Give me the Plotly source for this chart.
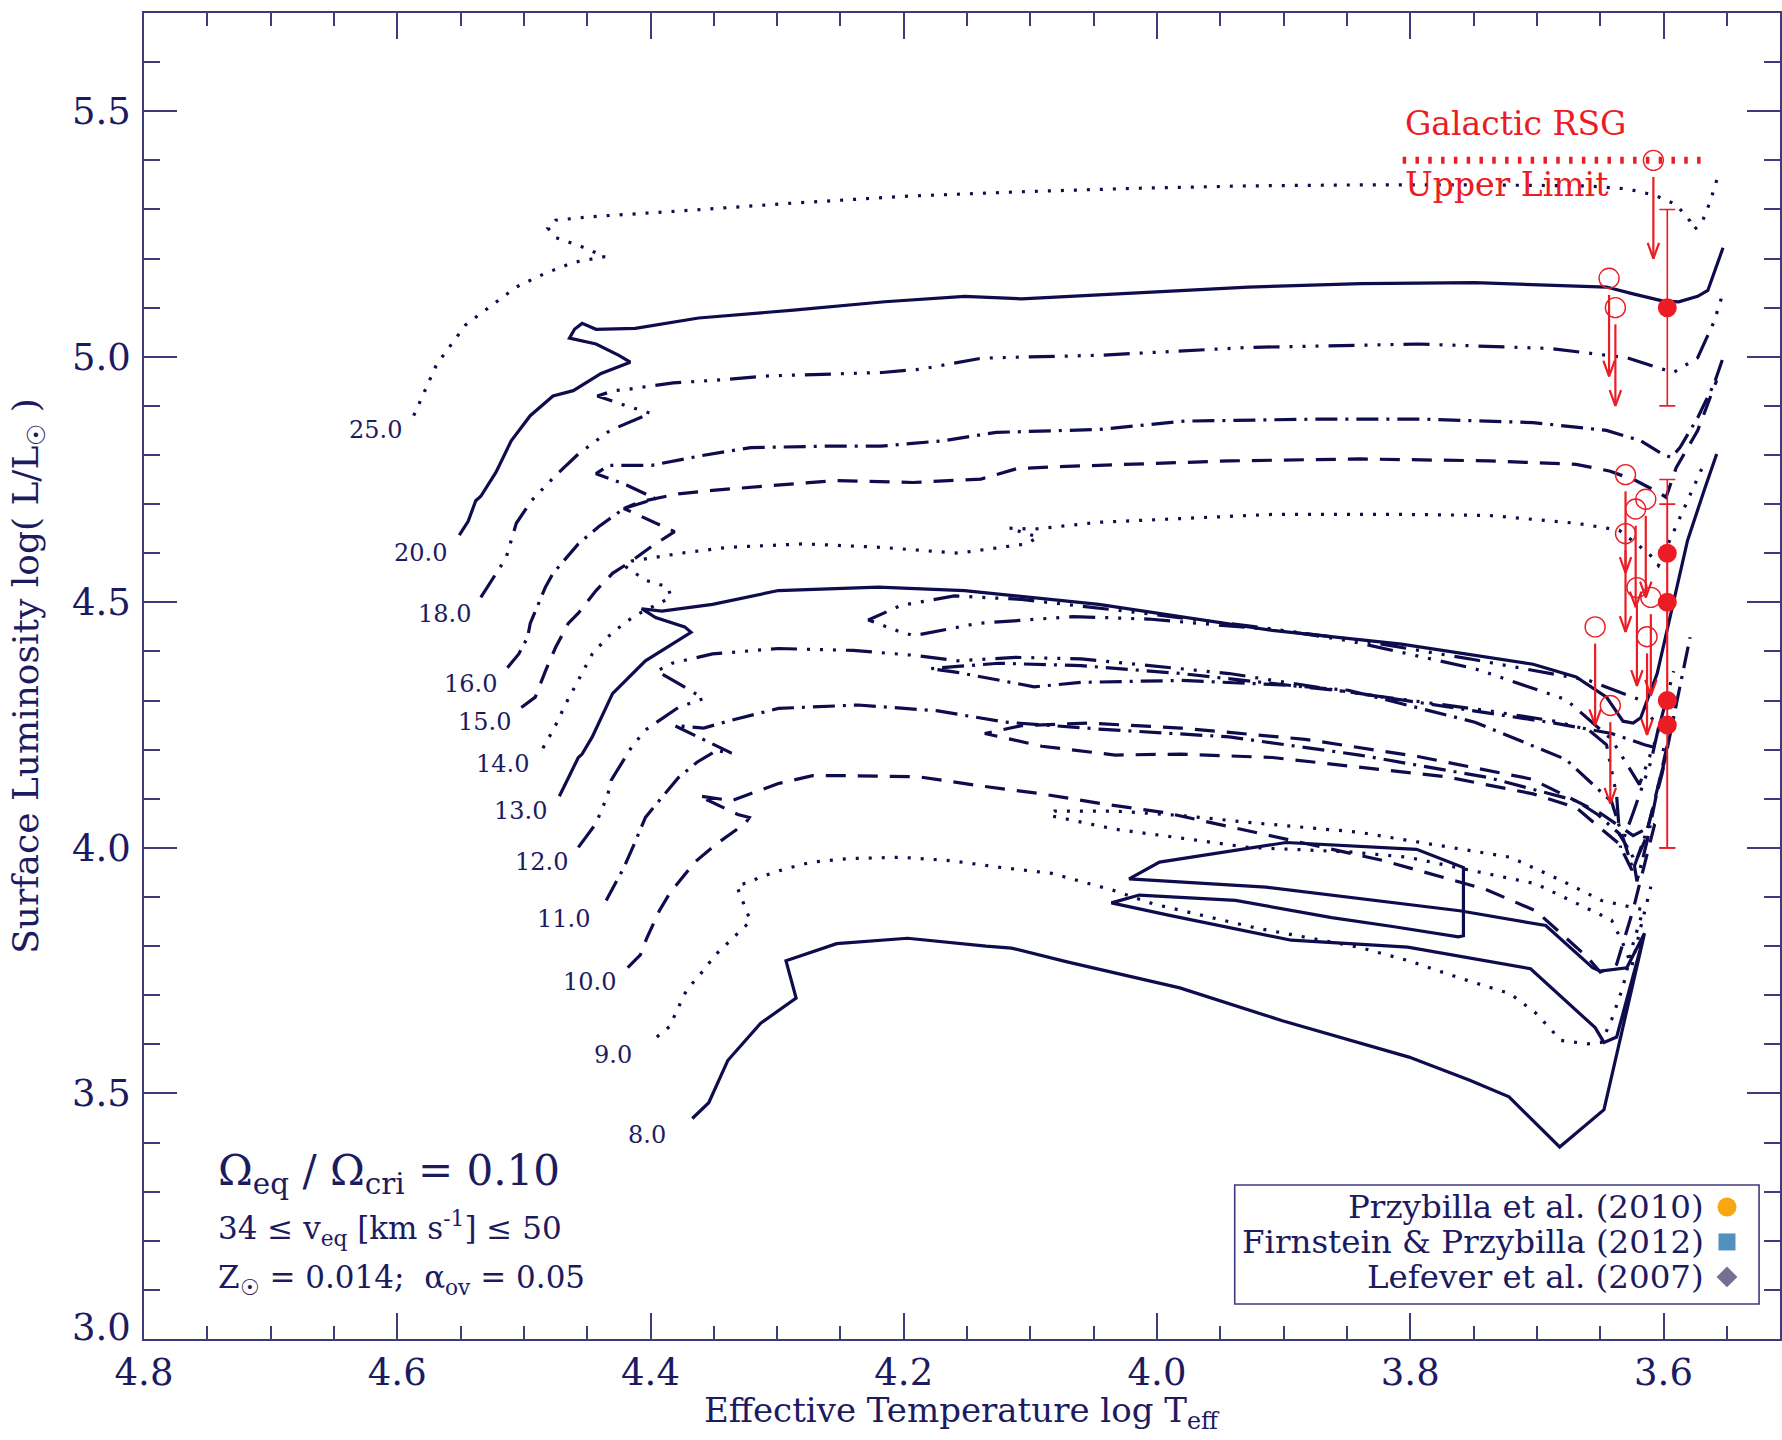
import plotly.graph_objects as go

NAVY = "#0e0c4c"
TEXT = "#1d1b5f"
AXIS = "#3d3b7b"
RED = "#ec1c24"
FONT = "DejaVu Serif"

# ---------------- evolutionary tracks (log Teff, log L) ----------------
logT_25 = [4.587, 4.569, 4.546, 4.528, 4.506, 4.484, 4.461, 4.436, 4.457, 4.475, 4.481, 4.475, 4.448, 4.376,
           4.287, 4.197, 4.107, 4.018, 3.928, 3.839, 3.749, 3.660, 3.629, 3.607, 3.590, 3.579, 3.576, 3.570,
           3.563, 3.557]
logL_25 = [4.880, 4.984, 5.065, 5.100, 5.142, 5.169, 5.192, 5.204, 5.227, 5.243, 5.262, 5.278, 5.285, 5.297,
           5.313, 5.327, 5.336, 5.343, 5.348, 5.350, 5.350, 5.348, 5.342, 5.329, 5.310, 5.276, 5.259, 5.271,
           5.317, 5.368]

logT_20 = [4.551, 4.544, 4.538, 4.534, 4.522, 4.510, 4.495, 4.477, 4.461, 4.439, 4.416, 4.425, 4.443, 4.464,
           4.460, 4.454, 4.443, 4.412, 4.362, 4.287, 4.215, 4.152, 4.107, 4.018, 3.928, 3.839, 3.749, 3.669,
           3.645, 3.624, 3.601, 3.588, 3.573, 3.565, 3.553]
logL_20 = [4.637, 4.665, 4.707, 4.716, 4.765, 4.829, 4.880, 4.920, 4.931, 4.966, 4.989, 5.003, 5.026, 5.038,
           5.056, 5.068, 5.056, 5.058, 5.079, 5.095, 5.112, 5.123, 5.118, 5.130, 5.142, 5.149, 5.151, 5.144,
           5.142, 5.128, 5.114, 5.112, 5.123, 5.135, 5.222]

logT_18 = [4.534, 4.514, 4.506, 4.494, 4.477, 4.457, 4.432, 4.400, 4.420, 4.442, 4.429, 4.420, 4.382, 4.350,
           4.307, 4.259, 4.217, 4.186, 4.141, 4.129, 4.046, 3.928, 3.794, 3.690, 3.629, 3.601, 3.592, 3.573,
           3.560, 3.553]
logL_18 = [4.510, 4.591, 4.661, 4.707, 4.753, 4.802, 4.850, 4.885, 4.901, 4.920, 4.931, 4.933, 4.947, 4.952,
           4.961, 4.964, 4.968, 4.975, 4.996, 4.998, 5.003, 5.019, 5.026, 5.017, 4.998, 4.975, 4.968, 4.998,
           5.072, 5.130]

logT_16 = [4.513, 4.504, 4.497, 4.495, 4.483, 4.477, 4.457, 4.441, 4.421, 4.408, 4.396, 4.419, 4.443, 4.433,
           4.399, 4.359, 4.321, 4.262, 4.218, 4.169, 4.127, 4.046, 3.978, 3.875, 3.789, 3.703, 3.645, 3.618,
           3.601, 3.594, 3.587, 3.573, 3.560, 3.553]
logL_16 = [4.367, 4.395, 4.429, 4.457, 4.531, 4.559, 4.619, 4.654, 4.691, 4.702, 4.711, 4.739, 4.762, 4.779,
           4.779, 4.799, 4.815, 4.818, 4.818, 4.829, 4.846, 4.852, 4.869, 4.873, 4.873, 4.866, 4.850, 4.829,
           4.802, 4.795, 4.815, 4.876, 4.945, 4.998]

logT_15 = [4.502, 4.491, 4.483, 4.475, 4.465, 4.457, 4.443, 4.430, 4.415, 4.399, 4.381, 4.401, 4.421, 4.408,
           4.396, 4.378, 4.351, 4.306, 4.254, 4.193, 4.139, 4.111, 4.081, 4.046, 3.943, 3.840, 3.738, 3.669,
           3.642, 3.622, 3.607, 3.598, 3.590, 3.573, 3.566, 3.558]
logL_15 = [4.286, 4.307, 4.360, 4.408, 4.457, 4.478, 4.524, 4.559, 4.584, 4.614, 4.644, 4.668, 4.691, 4.705,
           4.711, 4.721, 4.728, 4.737, 4.748, 4.744, 4.751, 4.772, 4.776, 4.779, 4.788, 4.792, 4.788, 4.781,
           4.767, 4.748, 4.728, 4.714, 4.774, 4.850, 4.896, 4.952]

logT_14 = [4.485, 4.476, 4.467, 4.457, 4.446, 4.434, 4.420, 4.410, 4.396, 4.384, 4.386, 4.404, 4.421, 4.415,
           4.376, 4.339, 4.279, 4.218, 4.157, 4.103, 4.094, 4.117, 4.097, 4.046, 3.909, 3.807, 3.738, 3.669,
           3.635, 3.618, 3.611, 3.604, 3.597, 3.581, 3.567]
logL_14 = [4.203, 4.244, 4.293, 4.341, 4.395, 4.429, 4.459, 4.476, 4.494, 4.510, 4.531, 4.545, 4.575, 4.584,
           4.600, 4.612, 4.619, 4.612, 4.600, 4.619, 4.633, 4.651, 4.649, 4.663, 4.679, 4.679, 4.677, 4.661,
           4.647, 4.612, 4.598, 4.575, 4.614, 4.707, 4.788]

logT_13 = [4.472, 4.457, 4.454, 4.446, 4.430, 4.404, 4.368, 4.373, 4.396, 4.407, 4.391, 4.351, 4.299, 4.220,
           4.152, 4.046, 3.909, 3.807, 3.703, 3.669, 3.645, 3.632, 3.624, 3.618, 3.605, 3.594, 3.581, 3.567,
           3.558]
logL_13 = [4.105, 4.184, 4.191, 4.226, 4.314, 4.381, 4.439, 4.450, 4.469, 4.487, 4.482, 4.496, 4.524, 4.531,
           4.524, 4.496, 4.443, 4.415, 4.374, 4.348, 4.307, 4.258, 4.254, 4.265, 4.355, 4.476, 4.626, 4.735,
           4.802]

logT_12 = [4.457, 4.443, 4.434, 4.431, 4.415, 4.404, 4.378, 4.358, 4.376, 4.395, 4.383, 4.351, 4.299, 4.240,
           4.191, 4.157, 4.112, 4.060, 3.943, 3.840, 3.738, 3.686, 3.659, 3.645, 3.637, 3.634, 3.624, 3.610,
           3.604, 3.619, 3.659, 3.749, 3.839, 3.928, 4.018, 4.107, 4.160, 4.202, 4.228, 4.204, 4.192, 4.142,
           4.066, 4.007, 3.902, 3.849, 3.749, 3.677, 3.641, 3.619, 3.606, 3.592]
logL_12 = [4.001, 4.050, 4.106, 4.138, 4.205, 4.240, 4.286, 4.304, 4.332, 4.360, 4.376, 4.395, 4.406, 4.402,
           4.392, 4.381, 4.388, 4.385, 4.355, 4.314, 4.279, 4.258, 4.240, 4.210, 4.106, 4.001, 4.071, 4.175,
           4.244, 4.302, 4.341, 4.383, 4.422, 4.452, 4.480, 4.506, 4.513, 4.494, 4.464, 4.441, 4.432, 4.457,
           4.471, 4.466, 4.443, 4.422, 4.365, 4.302, 4.221, 4.129, 4.221, 4.360]

logT_11 = [4.435, 4.428, 4.421, 4.412, 4.404, 4.390, 4.378, 4.363, 4.348, 4.336, 4.358, 4.381, 4.358, 4.336,
           4.299, 4.236, 4.173, 4.120, 4.046, 3.943, 3.840, 3.738, 3.669, 3.652, 3.635, 3.624, 3.621, 3.613,
           3.604, 3.597, 3.615, 3.641, 3.686, 3.749, 3.849, 3.981, 4.060, 4.125, 4.179, 4.159, 4.139, 4.097,
           4.060, 3.981, 3.902, 3.849, 3.749, 3.677, 3.641, 3.628, 3.624, 3.613, 3.601, 3.590, 3.579]
logL_11 = [3.893, 3.925, 3.960, 4.013, 4.062, 4.106, 4.143, 4.175, 4.198, 4.193, 4.221, 4.249, 4.244, 4.260,
           4.284, 4.291, 4.279, 4.256, 4.242, 4.226, 4.189, 4.143, 4.096, 4.068, 4.029, 3.981, 3.932, 4.013,
           4.129, 4.198, 4.210, 4.233, 4.254, 4.279, 4.318, 4.355, 4.371, 4.376, 4.365, 4.358, 4.348, 4.328,
           4.337, 4.341, 4.332, 4.321, 4.256, 4.180, 4.094, 3.990, 3.955, 4.036, 4.152, 4.291, 4.429]

logT_10 = [4.418, 4.408, 4.403, 4.400, 4.393, 4.385, 4.375, 4.365, 4.348, 4.325, 4.322, 4.331, 4.362, 4.336,
           4.299, 4.272, 4.244, 4.189, 4.139, 4.091, 4.041, 3.992, 3.939, 3.905, 3.821, 3.741, 3.701, 3.681,
           3.660, 3.650, 3.637, 3.624, 3.613, 3.607, 3.624, 3.650, 3.704, 3.794, 3.883, 3.981, 4.054, 4.107,
           4.136, 4.091, 4.033, 3.981, 3.909, 3.772, 3.703, 3.669, 3.635, 3.625, 3.615, 3.604, 3.592]
logL_10 = [3.756, 3.782, 3.816, 3.833, 3.872, 3.907, 3.939, 3.971, 4.008, 4.050, 4.062, 4.068, 4.106, 4.096,
           4.131, 4.147, 4.147, 4.145, 4.126, 4.110, 4.089, 4.071, 4.041, 4.022, 3.974, 3.916, 3.872, 3.826,
           3.777, 3.747, 3.763, 3.874, 3.990, 4.048, 4.025, 4.071, 4.140, 4.186, 4.221, 4.244, 4.254, 4.249,
           4.233, 4.207, 4.189, 4.191, 4.184, 4.145, 4.110, 4.082, 4.008, 3.955, 4.013, 4.129, 4.267]

logT_9 = [4.395, 4.385, 4.378, 4.373, 4.367, 4.360, 4.348, 4.334, 4.321, 4.325, 4.332, 4.322, 4.313, 4.294,
          4.273, 4.244, 4.203, 4.163, 4.123, 4.083, 4.035, 4.003, 3.922, 3.841, 3.801, 3.761, 3.721, 3.701,
          3.681, 3.660, 3.649, 3.641, 3.632, 3.624, 3.616, 3.649, 3.681, 3.721, 3.841, 3.928, 3.981, 4.033,
          4.081, 4.085, 4.033, 3.981, 3.928, 3.849, 3.802, 3.701, 3.641, 3.632, 3.625, 3.619, 3.610]
logL_9 = [3.615, 3.636, 3.675, 3.703, 3.724, 3.745, 3.784, 3.819, 3.851, 3.877, 3.923, 3.930, 3.941, 3.957,
          3.971, 3.978, 3.981, 3.974, 3.960, 3.948, 3.914, 3.886, 3.837, 3.798, 3.770, 3.735, 3.703, 3.664,
          3.608, 3.601, 3.604, 3.650, 3.717, 3.805, 3.874, 3.893, 3.934, 3.981, 4.032, 4.052, 4.066, 4.075,
          4.075, 4.066, 4.038, 4.020, 4.001, 3.992, 3.981, 3.927, 3.853, 3.805, 3.759, 3.828, 3.921]

logT_8 = [4.367, 4.354, 4.339, 4.320, 4.313, 4.285, 4.293, 4.253, 4.244, 4.197, 4.135, 4.115, 4.071, 3.982,
          3.901, 3.801, 3.753, 3.722, 3.682, 3.647, 3.615, 3.629, 3.650, 3.656, 3.693, 3.761, 3.914, 4.022,
          3.998, 3.898, 3.795, 3.758, 3.758, 3.762, 3.814, 3.862, 3.938, 4.014, 4.036, 3.991, 3.894, 3.802,
          3.705, 3.654, 3.647, 3.637, 3.615]
logL_8 = [3.449, 3.481, 3.567, 3.624, 3.643, 3.694, 3.770, 3.805, 3.807, 3.816, 3.800, 3.796, 3.768, 3.715,
          3.648, 3.574, 3.527, 3.493, 3.391, 3.467, 3.826, 3.756, 3.749, 3.756, 3.842, 3.872, 3.920, 3.937,
          3.971, 4.011, 3.997, 3.960, 3.821, 3.819, 3.840, 3.858, 3.893, 3.904, 3.888, 3.863, 3.812, 3.798,
          3.754, 3.634, 3.604, 3.615, 3.826]

mass_labels = ["25.0", "20.0", "18.0", "16.0", "15.0", "14.0", "13.0", "12.0", "11.0", "10.0", "9.0", "8.0"]
label_logT = [4.617, 4.582, 4.563, 4.542, 4.531, 4.517, 4.503, 4.486, 4.469, 4.448, 4.430, 4.403]
label_logL = [4.850, 4.600, 4.476, 4.334, 4.256, 4.170, 4.075, 3.971, 3.856, 3.726, 3.578, 3.416]

tracks = [
    (logT_25, logL_25), (logT_20, logL_20), (logT_18, logL_18), (logT_16, logL_16),
    (logT_15, logL_15), (logT_14, logL_14), (logT_13, logL_13), (logT_12, logL_12),
    (logT_11, logL_11), (logT_10, logL_10), (logT_9, logL_9), (logT_8, logL_8),
]

DOT = "3px,10px"
DASH = "20px,12px"
DASHDOT = "22px,8px,3px,8px"
DASH3DOT = "26px,10px,3px,10px,3px,10px,3px,10px"
track_dash = [DOT, "solid", DASH3DOT, DASHDOT, DASH, DOT, "solid", DASH3DOT, DASHDOT, DASH, DOT, "solid"]

# ---------------- Galactic red supergiants ----------------
rsg_logT = [3.597, 3.597, 3.597, 3.597, 3.597]
rsg_logL = [5.10, 4.60, 4.50, 4.30, 4.25]
rsg_err_plus = [0.20, 0.15, 0.20, 0.30, 0.25]
rsg_err_minus = [0.20, 0.10, 0.20, 0.30, 0.25]

ul_logT = [3.608, 3.643, 3.638, 3.630, 3.614, 3.622, 3.630, 3.621, 3.610, 3.613, 3.654, 3.642]
ul_logL = [5.40, 5.16, 5.10, 4.76, 4.71, 4.69, 4.64, 4.53, 4.51, 4.43, 4.45, 4.29]
ul_drop = 0.2

rsg_limit_logL = 5.40
rsg_limit_logT = [3.806, 3.564]

legend_names = ["Przybilla et al. (2010)", "Firnstein & Przybilla (2012)", "Lefever et al. (2007)"]
legend_colors = ["#f6a712", "#5290c0", "#766e93"]
legend_symbols = ["circle", "square", "diamond"]

x_ticks = [4.8, 4.6, 4.4, 4.2, 4.0, 3.8, 3.6]
y_ticks = [3.0, 3.5, 4.0, 4.5, 5.0, 5.5]
y_ticktext = ["", "3.5", "4.0", "4.5", "5.0", "5.5"]   # the 3.0 label sits lifted off the corner

fig = go.Figure()

for (tx, ty), dash in zip(tracks, track_dash):
    fig.add_trace(go.Scatter(x=tx, y=ty, mode="lines", showlegend=False, hoverinfo="skip",
                             line=dict(color=NAVY, width=3.2, dash=dash)))

# red supergiant upper-limit line
fig.add_trace(go.Scatter(x=rsg_limit_logT, y=[rsg_limit_logL] * 2, mode="lines", showlegend=False,
                         line=dict(color=RED, width=7, dash="3.5px,9.3px")))

# upper-limit arrows (shaft + open head)
head_dx, head_dy, gap = 0.0045, 0.032, 0.034
ax, ay = [], []
for x0, y0 in zip(ul_logT, ul_logL):
    tip = y0 - ul_drop
    ax += [x0, x0, None, x0 - head_dx, x0, x0 + head_dx, None]
    ay += [y0 - gap, tip, None, tip + head_dy, tip, tip + head_dy, None]
fig.add_trace(go.Scatter(x=ax, y=ay, mode="lines", showlegend=False,
                         line=dict(color=RED, width=2.2)))
fig.add_trace(go.Scatter(x=ul_logT, y=ul_logL, mode="markers", showlegend=False,
                         marker=dict(symbol="circle-open", size=20, color=RED, line=dict(width=1.4))))

fig.add_trace(go.Scatter(x=rsg_logT, y=rsg_logL, mode="markers", showlegend=False,
                         marker=dict(symbol="circle", size=19, color=RED),
                         error_y=dict(type="data", symmetric=False, array=rsg_err_plus,
                                      arrayminus=rsg_err_minus, color=RED, thickness=1.6, width=8)))

# legend symbols on an overlay in plot-fraction coordinates
legend_rows = [0.0995, 0.0732, 0.0468]
fig.add_trace(go.Scatter(x=[0.9676] * 3, y=legend_rows, mode="markers", showlegend=False,
                         xaxis="x2", yaxis="y2",
                         marker=dict(symbol=legend_symbols, color=legend_colors, size=[19, 17, 16],
                                     opacity=1, line=dict(width=0))))

annotations = []
for lab, lx, ly in zip(mass_labels, label_logT, label_logL):
    annotations.append(dict(x=lx, y=ly, text=lab, showarrow=False, xanchor="center", yanchor="middle",
                            font=dict(family=FONT, size=24, color=TEXT)))

for name, ry in zip(legend_names, legend_rows):
    annotations.append(dict(xref="paper", yref="paper", x=0.9545, y=ry, text=name, showarrow=False,
                            xanchor="right", yanchor="middle", font=dict(family=FONT, size=32.5, color=TEXT)))

annotations += [
    dict(xref="paper", yref="y", x=-0.007, y=3.0, yshift=12, text="3.0", showarrow=False,
         xanchor="right", yanchor="middle", font=dict(family=FONT, size=37, color=TEXT)),
    dict(x=3.806, y=5.476, text="Galactic RSG", showarrow=False, xanchor="left", yanchor="middle",
         font=dict(family=FONT, size=33, color=RED)),
    dict(x=3.806, y=5.350, text="Upper Limit", showarrow=False, xanchor="left", yanchor="middle",
         font=dict(family=FONT, size=33, color=RED)),
    dict(xref="paper", yref="paper", x=0.044, y=0.125, showarrow=False, xanchor="left", yanchor="middle",
         text="Ω<sub>eq</sub> / Ω<sub>cri</sub> = 0.10", font=dict(family=FONT, size=42, color=TEXT)),
    dict(xref="paper", yref="paper", x=0.044, y=0.083, showarrow=False, xanchor="left", yanchor="middle",
         text="34 ≤ v<sub>eq</sub> [km s<sup>-1</sup>] ≤ 50", font=dict(family=FONT, size=31, color=TEXT)),
    dict(xref="paper", yref="paper", x=0.044, y=0.0445, showarrow=False, xanchor="left", yanchor="middle",
         text="Z<sub>☉</sub> = 0.014;&nbsp;&nbsp;α<sub>ov</sub> = 0.05", font=dict(family=FONT, size=31, color=TEXT)),
    dict(xref="paper", yref="paper", x=0.5, y=-0.0555, showarrow=False, xanchor="center", yanchor="middle",
         text="Effective Temperature log T<sub>eff</sub>", font=dict(family=FONT, size=34, color=TEXT)),
    dict(xref="paper", yref="paper", x=-0.071, y=0.5, showarrow=False, xanchor="center", yanchor="middle",
         textangle=-90, text="Surface Luminosity log( L/L<sub>☉</sub> )",
         font=dict(family=FONT, size=36, color=TEXT)),
]

fig.update_layout(
    width=1782, height=1440,
    margin=dict(l=144, r=0, t=13, b=101),
    paper_bgcolor="white", plot_bgcolor="white",
    showlegend=False,
    annotations=annotations,
    shapes=[dict(type="rect", xref="paper", yref="paper", x0=0.6667, x1=0.9872, y0=0.0264, y1=0.1161,
                 line=dict(color=AXIS, width=1.6), fillcolor="rgba(0,0,0,0)")],
    xaxis=dict(range=[4.8, 3.508], tickvals=x_ticks, tickformat=".1f", ticks="inside", ticklen=26,
               tickwidth=1.6, tickcolor=AXIS, showline=True, linecolor=AXIS, linewidth=1.6, mirror="ticks",
               showgrid=False, zeroline=False, ticklabelstandoff=0,
               tickfont=dict(family=FONT, size=37, color=TEXT),
               minor=dict(dtick=0.05, tick0=3.6, ticks="inside", ticklen=13, tickwidth=1.6, tickcolor=AXIS,
                          showgrid=False)),
    yaxis=dict(range=[3.0, 5.7], tickvals=y_ticks, ticktext=y_ticktext, ticks="inside", ticklen=33,
               tickwidth=1.6, tickcolor=AXIS, showline=True, linecolor=AXIS, linewidth=1.6, mirror="ticks",
               showgrid=False, zeroline=False, ticklabelstandoff=4,
               tickfont=dict(family=FONT, size=37, color=TEXT),
               minor=dict(dtick=0.1, tick0=3.0, ticks="inside", ticklen=16, tickwidth=1.6, tickcolor=AXIS,
                          showgrid=False)),
    xaxis2=dict(overlaying="x", range=[0, 1], visible=False),
    yaxis2=dict(overlaying="y", range=[0, 1], visible=False),
)

fig.write_html("out.html")
